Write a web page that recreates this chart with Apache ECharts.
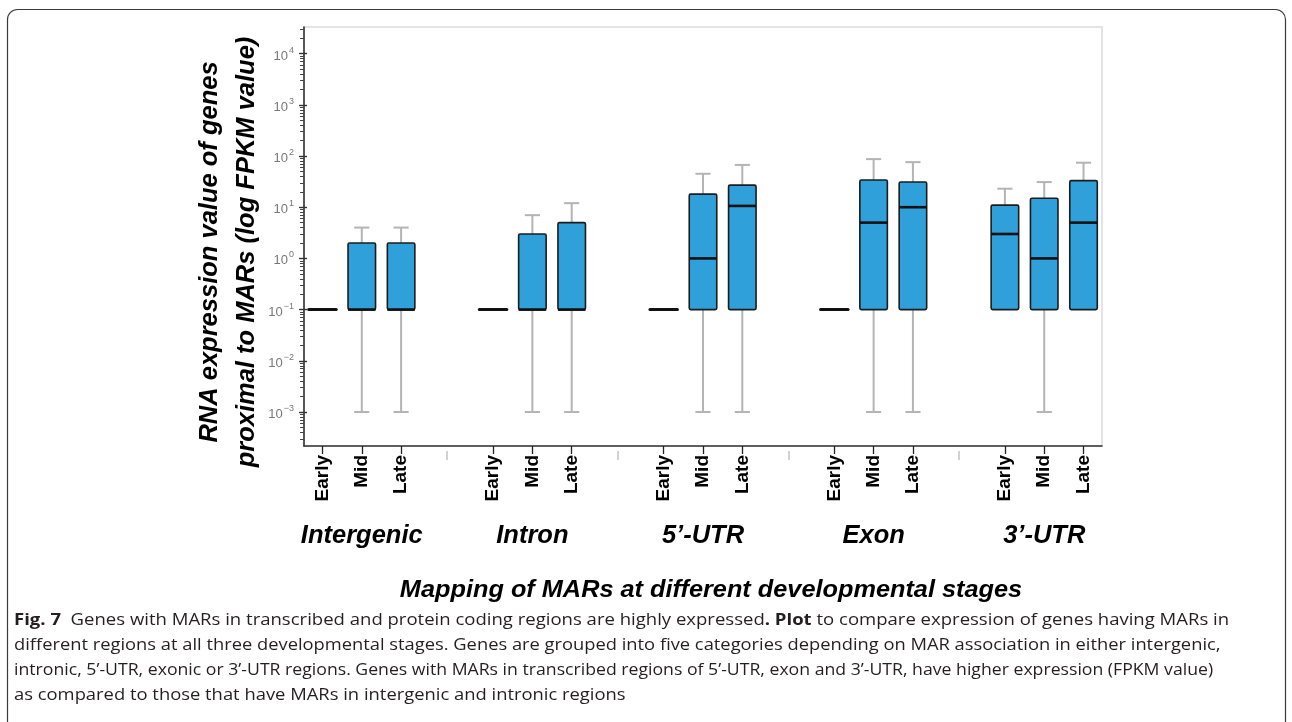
<!DOCTYPE html>
<html>
<head>
<meta charset="utf-8">
<title>MAR-proximal gene expression</title>
<script src="https://cdn.jsdelivr.net/npm/echarts@6.0.0/dist/echarts.min.js"></script>
<style>
  html, body { margin: 0; padding: 0; background: #ffffff; }
  #chart { width: 1292px; height: 722px; }
</style>
</head>
<body>
<div id="chart"></div>
<script>
// Genomic region of the MAR and developmental stage
const regions = ['Intergenic', 'Intron', '5’-UTR', 'Exon', '3’-UTR'];
const stages = ['Early', 'Mid', 'Late'];

// FPKM box statistics, region-major order (Early, Mid, Late for each region)
const whiskerLow  = [0.1, 0.001, 0.001,  0.1, 0.001, 0.001,  0.1, 0.001, 0.001,  0.1, 0.001, 0.001,  0.1, 0.001, 0.1];
const quartile1   = [0.1, 0.1,   0.1,    0.1, 0.1,   0.1,    0.1, 0.1,   0.1,    0.1, 0.1,   0.1,    0.1, 0.1,   0.1];
const median      = [0.1, 0.1,   0.1,    0.1, 0.1,   0.1,    0.1, 1,     10.6,   0.1, 5,     10,     3,   1,     5];
const quartile3   = [0.1, 2,     2,      0.1, 3,     5,      0.1, 18,    27,     0.1, 34,    31,     11,  15,    33];
const whiskerHigh = [0.1, 4,     4,      0.1, 7,     12,     0.1, 45,    67,     0.1, 87,    76,     23,  31,    74];

// y tick exponents (log10 FPKM)
const yExponents = [-3, -2, -1, 0, 1, 2, 3, 4];

// Horizontal layout in "box slots": stages one slot apart, regions 4.34 slots apart
const REGION_STEP = 4.34;
const BOX_WIDTH = 0.7;
const X_MIN = -1.47, X_MAX = 18.83;
const Y_MIN = -3.664, Y_MAX = 4.52;

const stagePos = [];
const stageName = [];
regions.forEach((r, g) => stages.forEach((s, k) => {
  stagePos.push(g * REGION_STEP + (k - 1));
  stageName.push(s);
}));
const regionPos = regions.map((r, g) => g * REGION_STEP);
const gapPos = regions.slice(1).map((r, g) => (g + 0.5) * REGION_STEP);

const lg = v => Math.log10(v);
const boxData = stagePos.map((x, i) => [
  x, lg(whiskerLow[i]), lg(quartile1[i]), lg(median[i]), lg(quartile3[i]), lg(whiskerHigh[i])
]);

// minor ticks at k·10^n
const minorTicks = [];
for (let n = -4; n <= 4; n++) {
  for (let k = 2; k <= 9; k++) {
    const v = n + Math.log10(k);
    if (v > Y_MIN && v < Y_MAX) minorTicks.push(v);
  }
}

const supMinus = n => (n < 0 ? '−' + (-n) : String(n));
const lookup = (arr, names) => v => {
  for (let i = 0; i < arr.length; i++) if (Math.abs(arr[i] - v) < 1e-6) return names[i];
  return '';
};

function renderBox(params, api) {
  const x = api.value(0);
  const lo = api.coord([x, api.value(1)]);
  const q1 = api.coord([x, api.value(2)]);
  const md = api.coord([x, api.value(3)]);
  const q3 = api.coord([x, api.value(4)]);
  const hi = api.coord([x, api.value(5)]);
  const half = api.size([BOX_WIDTH, 0])[0] / 2;
  const cap = half * 0.55;
  const whisker = { stroke: '#b4b4b4', lineWidth: 2 };
  const children = [];
  if (api.value(5) > api.value(4)) {
    children.push({ type: 'line', shape: { x1: q3[0], y1: q3[1], x2: hi[0], y2: hi[1] }, style: whisker });
    children.push({ type: 'line', shape: { x1: hi[0] - cap, y1: hi[1], x2: hi[0] + cap, y2: hi[1] }, style: whisker });
  }
  if (api.value(1) < api.value(2)) {
    children.push({ type: 'line', shape: { x1: lo[0], y1: q1[1], x2: lo[0], y2: lo[1] }, style: whisker });
    children.push({ type: 'line', shape: { x1: lo[0] - cap, y1: lo[1], x2: lo[0] + cap, y2: lo[1] }, style: whisker });
  }
  const h = q1[1] - q3[1];
  if (h > 0.5) {
    children.push({
      type: 'rect',
      shape: { x: q3[0] - half, y: q3[1], width: half * 2, height: h, r: 1.5 },
      style: { fill: '#2fa0d9', stroke: '#1c1c1c', lineWidth: 1.6 }
    });
    children.push({ type: 'line', shape: { x1: md[0] - half, y1: md[1], x2: md[0] + half, y2: md[1] },
      style: { stroke: '#111', lineWidth: 2.6 } });
  } else {
    children.push({ type: 'line', shape: { x1: md[0] - half, y1: md[1], x2: md[0] + half, y2: md[1] },
      style: { stroke: '#111', lineWidth: 3, lineCap: 'round' } });
  }
  return { type: 'group', children };
}

const chart = echarts.init(document.getElementById('chart'), null, { renderer: 'canvas' });

const arial = '"Liberation Sans", Arial, sans-serif';
const boldArial = { fontFamily: arial, fontWeight: 'bold', color: '#000' };
const capFont = '"Open Sans", "Noto Sans", sans-serif';
const CAP_SIZE = 16.5;

function captionLine(y, scaleX, text, rich) {
  const style = { text, fontFamily: capFont, fontSize: CAP_SIZE, fill: '#231f20', verticalAlign: 'middle' };
  if (rich) style.rich = rich;
  return { type: 'text', x: 14, y, scaleX, originX: 0, originY: 0, silent: true, style };
}

chart.setOption({
  backgroundColor: '#ffffff',
  animation: false,
  grid: {
    left: 304, right: 190, top: 27, bottom: 276,
    show: true, borderColor: '#e4e4e4', borderWidth: 2, backgroundColor: 'transparent'
  },
  xAxis: [
    { // stage ticks and labels
      type: 'value', min: X_MIN, max: X_MAX, position: 'bottom',
      splitLine: { show: false },
      axisLine: { show: true, onZero: false, lineStyle: { color: '#333', width: 1.6 } },
      axisTick: { show: true, customValues: stagePos, length: 8, lineStyle: { color: '#222', width: 1.3 } },
      axisLabel: {
        show: true, customValues: stagePos, rotate: 90, margin: 9,
        formatter: lookup(stagePos, stageName),
        ...boldArial, fontSize: 19
      }
    },
    { // separators between regions
      type: 'value', min: X_MIN, max: X_MAX, position: 'bottom', offset: 5,
      splitLine: { show: false }, axisLine: { show: false, onZero: false },
      axisTick: { show: true, customValues: gapPos, length: 9, lineStyle: { color: '#d2d2d2', width: 2 } },
      axisLabel: { show: false }
    },
    { // region names
      type: 'value', min: X_MIN, max: X_MAX, position: 'bottom',
      splitLine: { show: false }, axisLine: { show: false, onZero: false }, axisTick: { show: false },
      axisLabel: {
        show: true, customValues: regionPos, margin: 77,
        formatter: lookup(regionPos, regions),
        ...boldArial, fontStyle: 'italic', fontSize: 25.5
      }
    }
  ],
  yAxis: [
    {
      type: 'value', min: Y_MIN, max: Y_MAX, position: 'left',
      splitLine: { show: false },
      axisLine: { show: true, onZero: false, lineStyle: { color: '#333', width: 1.6 } },
      axisTick: { show: true, customValues: yExponents, length: 5, lineStyle: { color: '#333', width: 1.4 } },
      axisLabel: {
        show: true, customValues: yExponents, margin: 10,
        formatter: v => '{b|10}{s|' + supMinus(Math.round(v)) + '}',
        rich: {
          b: { fontSize: 13, color: '#777', fontFamily: arial, padding: [5, 0, 0, 0] },
          s: { fontSize: 9, color: '#777', fontFamily: arial, padding: [0, 0, 7, 1] }
        }
      }
    },
    { // minor ticks
      type: 'value', min: Y_MIN, max: Y_MAX, position: 'left',
      splitLine: { show: false }, axisLine: { show: false, onZero: false }, axisLabel: { show: false },
      axisTick: { show: true, customValues: minorTicks, length: 4, lineStyle: { color: '#444', width: 1 } }
    },
    { // inner part of the decade ticks
      type: 'value', min: Y_MIN, max: Y_MAX, position: 'left',
      splitLine: { show: false }, axisLine: { show: false, onZero: false }, axisLabel: { show: false },
      axisTick: { show: true, inside: true, customValues: yExponents, length: 3, lineStyle: { color: '#333', width: 1.4 } }
    }
  ],
  series: [{
    type: 'custom',
    name: 'FPKM',
    xAxisIndex: 0, yAxisIndex: 0,
    renderItem: renderBox,
    encode: { x: 0, y: [1, 2, 3, 4, 5] },
    data: boxData,
    clip: false
  }],
  graphic: [
    { // figure frame
      type: 'rect', silent: true,
      shape: { x: 7.5, y: 9.5, width: 1278, height: 760, r: 10 },
      style: { fill: 'none', stroke: '#3a3a3a', lineWidth: 1.2 }
    },
    { // y axis title
      type: 'text', x: 228, y: 252, rotation: Math.PI / 2, silent: true,
      style: {
        text: 'RNA expression value of genes\nproximal to MARs (log FPKM value)',
        fontFamily: arial, fontWeight: 'bold', fontStyle: 'italic', fontSize: 25.5, lineHeight: 37,
        fill: '#000', align: 'center', verticalAlign: 'middle'
      }
    },
    { // x axis title
      type: 'text', x: 711, y: 591, scaleX: 1.10, originX: 0, originY: 0, silent: true,
      style: {
        text: 'Mapping of MARs at different developmental stages',
        fontFamily: arial, fontWeight: 'bold', fontStyle: 'italic',
        fontSize: 23, fill: '#000', align: 'center', verticalAlign: 'middle'
      }
    },
    captionLine(620, 1.123,
      '{b|Fig. 7}  Genes with MARs in transcribed and protein coding regions are highly expressed{b|. Plot} to compare expression of genes having MARs in',
      { b: { fontFamily: capFont, fontSize: CAP_SIZE, fontWeight: 'bold', fill: '#231f20' } }),
    captionLine(645, 1.11,
      'different regions at all three developmental stages. Genes are grouped into five categories depending on MAR association in either intergenic,'),
    captionLine(670, 1.07,
      'intronic, 5’-UTR, exonic or 3’-UTR regions. Genes with MARs in transcribed regions of 5’-UTR, exon and 3’-UTR, have higher expression (FPKM value)'),
    captionLine(695, 1.114,
      'as compared to those that have MARs in intergenic and intronic regions')
  ]
});
</script>
</body>
</html>
